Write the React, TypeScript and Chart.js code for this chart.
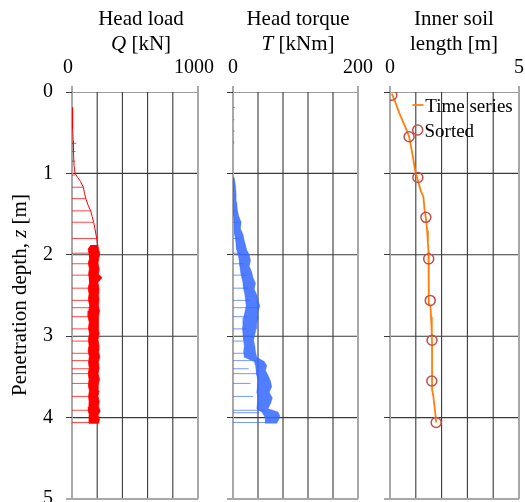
import { useEffect, useRef } from "react";
import { Chart, registerables } from "chart.js";

Chart.register(...registerables);

const SERIF = "'Liberation Serif', 'Times New Roman', Times, serif";

// ---- shared depth axis ----
const depthTicks = [0, 1, 2, 3, 4, 5];

// ---- Panel 1: head load Q [kN] ----
const loadTickLabels = [0, 1000];
const loadGrid = [0, 200, 400, 600, 800, 1000];
const loadEnvDepth = [0.19, 0.3, 0.45, 0.6, 0.75, 0.9, 1.0, 1.05, 1.1, 1.17, 1.25, 1.32, 1.4, 1.46, 1.53, 1.6, 1.68, 1.75, 1.82, 1.88];
const loadEnvValue = [0, 4, 6, 9, 12, 16, 24, 45, 68, 90, 100, 112, 130, 148, 160, 172, 182, 190, 198, 205];
const loadResetDepth = [0.63, 0.73, 0.85, 1.02, 1.17, 1.31, 1.46, 1.6, 1.8, 1.98, 2.11, 2.25, 2.41, 2.56, 2.65, 2.76, 2.91, 3.06, 3.21, 3.3, 3.4, 3.46, 3.58, 3.74, 3.91, 4.06];
const loadResetValue = [35, 28, 25, 24, 90, 110, 148, 170, 190, 140, 135, 138, 130, 135, 140, 130, 135, 132, 138, 130, 135, 140, 130, 136, 220, 195];
const loadBandDepth = [1.88, 1.93, 1.98, 2.04, 2.1, 2.17, 2.24, 2.28, 2.34, 2.41, 2.48, 2.55, 2.62, 2.69, 2.76, 2.83, 2.9, 2.97, 3.04, 3.11, 3.18, 3.25, 3.32, 3.39, 3.46, 3.53, 3.6, 3.67, 3.74, 3.8, 3.87, 3.92, 3.97, 4.02, 4.07];
const loadBandMin = [150, 128, 135, 140, 130, 138, 132, 136, 140, 128, 136, 130, 140, 133, 128, 137, 131, 139, 130, 136, 128, 138, 131, 137, 129, 136, 130, 138, 132, 136, 134, 130, 138, 135, 140];
const loadBandMax = [205, 210, 220, 213, 206, 216, 210, 238, 206, 214, 207, 215, 209, 218, 207, 213, 208, 216, 206, 214, 208, 220, 209, 215, 207, 218, 208, 214, 206, 216, 210, 224, 206, 218, 212];

// ---- Panel 2: head torque T [kNm] ----
const torqueTickLabels = [0, 200];
const torqueGrid = [0, 40, 80, 120, 160, 200];
const torqueResetDepth = [0.004, 0.03, 0.19, 0.34, 0.48, 0.61, 0.63, 0.73, 1.46, 1.6, 1.8, 1.98, 2.11, 2.25, 2.41, 2.56, 2.65, 2.76, 2.91, 3.06, 3.21, 3.3, 3.4, 3.46, 3.58, 3.74, 3.91, 3.94, 4.06];
const torqueResetValue = [1, 1, 3, 2, 3, 2, 2, 1, 5, 8, 10, 12, 18, 20, 24, 27, 40, 22, 22, 17, 20, 38, 25, 38, 28, 32, 49, 42, 52];
const torqueBandDepth = [1.05, 1.15, 1.25, 1.35, 1.45, 1.52, 1.6, 1.68, 1.75, 1.82, 1.88, 1.94, 2.0, 2.07, 2.14, 2.21, 2.28, 2.35, 2.42, 2.49, 2.56, 2.63, 2.7, 2.77, 2.84, 2.91, 2.98, 3.05, 3.12, 3.19, 3.26, 3.31, 3.36, 3.42, 3.48, 3.55, 3.62, 3.69, 3.76, 3.83, 3.89, 3.93, 3.98, 4.03, 4.07];
const torqueBandMin = [0, 0, 0.5, 1, 1, 1.5, 2, 2, 3, 4, 5, 6, 8, 10, 11, 12, 14, 16, 17, 19, 20, 21, 19, 17, 16, 15, 16, 17, 18, 17, 18, 34, 36, 37, 38, 40, 39, 38, 40, 39, 38, 46, 50, 52, 52];
const torqueBandMax = [2, 4, 5, 6, 7, 9, 13, 12, 16, 18, 20, 22, 26, 28, 26, 30, 32, 36, 34, 38, 40, 43, 40, 41, 38, 37, 35, 33, 35, 36, 38, 50, 54, 52, 56, 60, 62, 58, 63, 60, 56, 72, 75, 73, 70];

// ---- Panel 3: inner soil length [m] ----
const soilTickLabels = [0, 5];
const soilGrid = [0, 1, 2, 3, 4, 5];
const soilSeriesDepth = [0.02, 0.12, 0.25, 0.36, 0.45, 0.55, 0.68, 0.82, 0.96, 1.05, 1.13, 1.22, 1.26, 1.3, 1.45, 1.55, 1.7, 1.85, 1.95, 2.1, 2.35, 2.6, 2.63, 2.76, 2.95, 3.1, 3.4, 3.65, 3.74, 3.85, 3.96, 4.06];
const soilSeriesLength = [0.07, 0.2, 0.35, 0.5, 0.62, 0.74, 0.82, 0.9, 0.97, 1.05, 1.12, 1.2, 1.26, 1.3, 1.34, 1.39, 1.44, 1.47, 1.49, 1.5, 1.5, 1.51, 1.57, 1.59, 1.62, 1.63, 1.63, 1.63, 1.68, 1.72, 1.76, 1.79];
const soilSortedDepth = [0.04, 0.55, 1.05, 1.54, 2.05, 2.56, 3.05, 3.55, 4.06];
const soilSortedLength = [0.07, 0.74, 1.08, 1.39, 1.5, 1.56, 1.63, 1.62, 1.79];

const RED = "#ff0000";
const ORANGE = "#ff7f0e";
const SORTED = "#c0504d";
const DARK = "#3a3a3a";
const LIGHT = "#a8a8a8";

const GAP = { x: NaN, y: NaN };
const pts = (xs: number[], ys: number[]) => xs.map((x, i) => ({ x, y: ys[i] }));
const teeth = (depth: number[], value: number[]) =>
  depth.flatMap((d, i) => [{ x: 0, y: d }, { x: value[i], y: d }, GAP]);
const band = (depth: number[], lo: number[], hi: number[]) => [
  ...depth.map((d, i) => ({ x: lo[i], y: d })),
  ...depth.map((d, i) => ({ x: hi[i], y: d })).reverse(),
];
const zTop = depthTicks[0];
const zBot = depthTicks[depthTicks.length - 1];
const vLines = (xs: number[]) => xs.flatMap((v) => [{ x: v, y: zTop }, { x: v, y: zBot }, GAP]);
const hLines = (zs: number[], x0: number, x1: number) => zs.flatMap((z) => [{ x: x0, y: z }, { x: x1, y: z }, GAP]);

// grid lines as line datasets on the chart's own scales (drawn beneath the data)
function gridDatasets(xGrid: number[]) {
  const x0 = xGrid[0];
  const x1 = xGrid[xGrid.length - 1];
  return [
    { data: vLines(xGrid.slice(1, -1)), borderColor: DARK, borderWidth: 1.1, pointRadius: 0, fill: false, spanGaps: false, order: 20 },
    { data: hLines(depthTicks.slice(0, -1), x0, x1), borderColor: DARK, borderWidth: 1.1, pointRadius: 0, fill: false, spanGaps: false, order: 20 },
    { data: [...vLines([x0, x1]), ...hLines([zBot], x0, x1)], borderColor: LIGHT, borderWidth: 2, pointRadius: 0, fill: false, spanGaps: false, clip: 4, order: 19 },
  ];
}

type Part = { t: string; i?: boolean; size?: number };
type Label = { x: number; y: number; parts: Part[]; rot?: boolean };

function textPlugin(labels: Label[], extra?: (ctx: CanvasRenderingContext2D) => void) {
  return {
    id: "texts",
    afterDraw(chart: any) {
      const ctx: CanvasRenderingContext2D = chart.ctx;
      ctx.save();
      ctx.fillStyle = "#000";
      ctx.textBaseline = "alphabetic";
      ctx.textAlign = "left";
      for (const L of labels) {
        const fonts = L.parts.map((p) => `${p.i ? "italic " : ""}${p.size ?? 21}px ${SERIF}`);
        const ws = L.parts.map((p, k) => {
          ctx.font = fonts[k];
          return ctx.measureText(p.t).width;
        });
        const w = ws.reduce((a, b) => a + b, 0);
        ctx.save();
        ctx.translate(L.x, L.y);
        if (L.rot) ctx.rotate(-Math.PI / 2);
        let cx = -w / 2;
        L.parts.forEach((p, k) => {
          ctx.font = fonts[k];
          ctx.fillText(p.t, cx, 0);
          cx += ws[k];
        });
        ctx.restore();
      }
      if (extra) extra(ctx);
      ctx.restore();
    },
  };
}

// tick marks outside the plot area, placed with the chart's own scales
function tickPlugin(xGrid: number[]) {
  return {
    id: "outerTicks",
    afterDraw(chart: any) {
      const { ctx, scales } = chart;
      const sx = scales.x;
      const sy = scales.y;
      const crisp = (p: number) => Math.round(p - 0.5) + 0.5;
      const x0 = sx.getPixelForValue(xGrid[0]);
      const x1 = sx.getPixelForValue(xGrid[xGrid.length - 1]);
      const y0 = sy.getPixelForValue(zTop);
      ctx.save();
      ctx.lineWidth = 1;
      depthTicks.forEach((v) => {
        const last = v === zBot;
        ctx.strokeStyle = last ? LIGHT : DARK;
        ctx.lineWidth = last ? 2 : 1;
        const py = last ? Math.round(sy.getPixelForValue(v)) : crisp(sy.getPixelForValue(v));
        ctx.beginPath();
        ctx.moveTo(x0 - 6, py);
        ctx.lineTo(x0, py);
        ctx.stroke();
      });
      ctx.strokeStyle = LIGHT;
      ctx.lineWidth = 2;
      [x0, x1].forEach((p) => {
        const px = Math.round(p);
        ctx.beginPath();
        ctx.moveTo(px, y0 - 6);
        ctx.lineTo(px, y0);
        ctx.stroke();
      });
      ctx.restore();
    },
  };
}

function scales(xMax: number, xLabels: number[], yWidth: number, showY: boolean, labelOffset: number) {
  return {
    x: {
      type: "linear",
      position: "top",
      min: 0,
      max: xMax,
      afterBuildTicks: (s: any) => {
        s.ticks = xLabels.map((v) => ({ value: v }));
      },
      ticks: {
        autoSkip: false,
        maxRotation: 0,
        padding: 6,
        labelOffset,
        color: "#000",
        font: { family: SERIF, size: 20 },
        callback: (v: number) => String(v),
      },
      grid: { display: false, drawTicks: true, tickLength: 6 },
      border: { display: false },
      afterFit: (s: any) => {
        s.height = 92;
        s.paddingLeft = 0;
        s.paddingRight = 0;
        s.paddingTop = 0;
        s.paddingBottom = 0;
      },
    },
    y: {
      type: "linear",
      reverse: true,
      min: zTop,
      max: zBot,
      afterBuildTicks: (s: any) => {
        s.ticks = depthTicks.map((v) => ({ value: v }));
      },
      ticks: {
        display: showY,
        padding: 13,
        color: "#000",
        font: { family: SERIF, size: 20 },
      },
      grid: { display: false, drawTicks: true, tickLength: 6 },
      border: { display: false },
      afterFit: (s: any) => {
        s.width = yWidth;
        s.paddingTop = 0;
        s.paddingBottom = 0;
        s.paddingLeft = 0;
        s.paddingRight = 0;
      },
    },
  };
}

function baseOptions(padRight: number, sc: any) {
  return {
    animation: false,
    responsive: false,
    maintainAspectRatio: false,
    events: [],
    layout: { autoPadding: false, padding: { left: 0, right: padRight, top: 0, bottom: 3 } },
    plugins: { legend: { display: false }, tooltip: { enabled: false }, title: { display: false } },
    elements: { point: { radius: 0 } },
    scales: sc,
  };
}

export default function App() {
  const r1 = useRef<HTMLCanvasElement>(null);
  const r2 = useRef<HTMLCanvasElement>(null);
  const r3 = useRef<HTMLCanvasElement>(null);

  useEffect(() => {
    const charts: Chart[] = [];

    charts.push(
      new Chart(r1.current!, {
        type: "line",
        data: {
          datasets: [
            { data: pts(loadEnvValue, loadEnvDepth), borderColor: RED, borderWidth: 1, fill: false, pointRadius: 0, order: 1 },
            { data: teeth(loadResetDepth, loadResetValue), borderColor: "rgba(255,0,0,0.8)", borderWidth: 0.9, fill: false, spanGaps: false, pointRadius: 0, order: 1 },
            { data: band(loadBandDepth, loadBandMin, loadBandMax), borderColor: RED, backgroundColor: RED, borderWidth: 0.8, fill: "shape", pointRadius: 0, order: 2 },
            ...gridDatasets(loadGrid),
          ],
        } as any,
        options: baseOptions(17, scales(1000, loadTickLabels, 72, true, -4)) as any,
        plugins: [
          tickPlugin(loadGrid),
          textPlugin([
            { x: 141, y: 24.5, parts: [{ t: "Head load" }] },
            { x: 141, y: 49.5, parts: [{ t: "Q", i: true }, { t: " [kN]" }] },
            { x: 26, y: 295, rot: true, parts: [{ t: "Penetration depth, " }, { t: "z", i: true }, { t: " [m]" }] },
          ]),
        ],
      })
    );

    charts.push(
      new Chart(r2.current!, {
        type: "line",
        data: {
          datasets: [
            { data: teeth(torqueResetDepth, torqueResetValue), borderColor: "rgba(51,102,255,0.75)", borderWidth: 0.9, fill: false, spanGaps: false, pointRadius: 0, order: 1 },
            { data: band(torqueBandDepth, torqueBandMin, torqueBandMax), borderColor: "rgba(51,102,255,0.6)", backgroundColor: "rgba(51,102,255,0.85)", borderWidth: 0.6, fill: "shape", pointRadius: 0, order: 2 },
            ...gridDatasets(torqueGrid),
          ],
        } as any,
        options: baseOptions(17, scales(200, torqueTickLabels, 18, false, 0)) as any,
        plugins: [
          tickPlugin(torqueGrid),
          textPlugin([
            { x: 83, y: 24.5, parts: [{ t: "Head torque" }] },
            { x: 83, y: 49.5, parts: [{ t: "T", i: true }, { t: " [kNm]" }] },
          ]),
        ],
      })
    );

    charts.push(
      new Chart(r3.current!, {
        type: "line",
        data: {
          datasets: [
            {
              label: "Sorted",
              data: pts(soilSortedLength, soilSortedDepth),
              showLine: false,
              pointStyle: "circle",
              pointRadius: 5,
              pointBorderColor: SORTED,
              pointBackgroundColor: "rgba(0,0,0,0)",
              pointBorderWidth: 1.5,
              borderColor: SORTED,
              order: 0,
            },
            {
              label: "Time series",
              data: pts(soilSeriesLength, soilSeriesDepth),
              borderColor: ORANGE,
              borderWidth: 1.8,
              fill: false,
              pointRadius: 0,
              order: 1,
            },
            ...gridDatasets(soilGrid),
          ],
        } as any,
        options: baseOptions(6, scales(5, soilTickLabels, 15, false, 0)) as any,
        plugins: [
          tickPlugin(soilGrid),
          textPlugin(
            [
              { x: 79, y: 24.5, parts: [{ t: "Inner soil" }] },
              { x: 79, y: 49.5, parts: [{ t: "length [m]" }] },
              { x: 50 + 44, y: 112, parts: [{ t: "Time series", size: 19 }] },
            ],
            (ctx) => {
              ctx.strokeStyle = ORANGE;
              ctx.lineWidth = 1.8;
              ctx.beginPath();
              ctx.moveTo(37.5, 105);
              ctx.lineTo(48.5, 105);
              ctx.stroke();
              ctx.strokeStyle = SORTED;
              ctx.lineWidth = 1.5;
              ctx.beginPath();
              ctx.arc(42.7, 130, 5, 0, Math.PI * 2);
              ctx.stroke();
              ctx.fillStyle = "#000";
              ctx.font = `19px ${SERIF}`;
              ctx.textAlign = "left";
              ctx.fillText("Sorted", 49.5, 137);
            }
          ),
        ],
      })
    );

    return () => charts.forEach((c) => c.destroy());
  }, []);

  const cv = (left: number, width: number) => ({
    position: "absolute" as const,
    left,
    top: 0,
    width,
    height: 502,
  });

  return (
    <div style={{ position: "absolute", left: 0, top: 0, width: 525, height: 502, background: "#fff" }}>
      <canvas ref={r1} width={215} height={502} style={cv(0, 215)} />
      <canvas ref={r2} width={160} height={502} style={cv(215, 160)} />
      <canvas ref={r3} width={150} height={502} style={cv(375, 150)} />
    </div>
  );
}
